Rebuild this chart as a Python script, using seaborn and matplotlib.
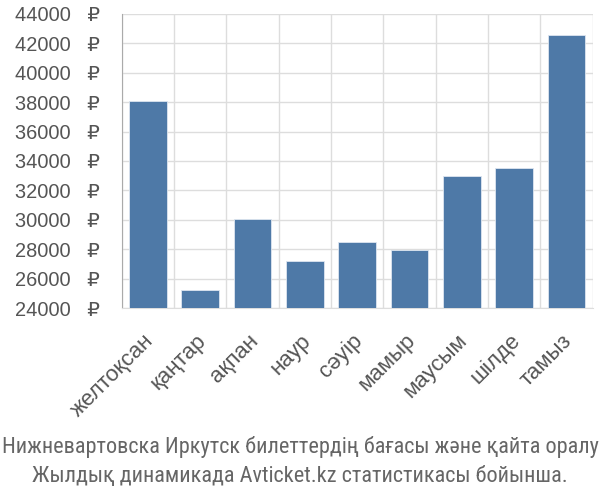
import matplotlib
matplotlib.use("Agg")
import matplotlib.pyplot as plt
import matplotlib.transforms as mtransforms
import seaborn as sns
import pandas as pd
import numpy as np
from matplotlib.ticker import FixedLocator
from matplotlib import font_manager as fm

months = ["желтоқсан", "қаңтар", "ақпан", "наур", "сәуір", "мамыр", "маусым", "шілде", "тамыз"]
prices = [38080, 25250, 30050, 27190, 28480, 27940, 32960, 33510, 42580]
yticks = list(range(24000, 44001, 2000))
caption = ["Нижневартовска Иркутск билеттердің бағасы және қайта оралу",
           "Жылдық динамикада Avticket.kz статистикасы бойынша."]

sns.set_style("white")
plt.rcParams['font.family'] = ['Liberation Sans', 'DejaVu Sans']

df = pd.DataFrame({"month": months, "price": prices})
fig = plt.figure(figsize=(6, 5), dpi=100)
ax = fig.add_axes([0.203, 0.384, 0.785, 0.588])

sns.barplot(data=df, x="month", y="price", color="#4e79a7", saturation=1,
            width=0.72, edgecolor="#dde6f0", linewidth=0.6, ax=ax, zorder=3)

ax.set_xlim(-0.5, len(months) - 0.5)
ax.set_ylim(24000, 44000)
ax.set_yticks(yticks)
ax.set_yticklabels([f"{v}   ₽" for v in yticks])
ax.set_xlabel("")
ax.set_ylabel("")

ax.xaxis.set_minor_locator(FixedLocator(np.arange(-0.5, len(months), 1.0)))
ax.tick_params(axis="x", which="major", length=0, pad=16, labelsize=16, labelcolor="#555555")
ax.tick_params(axis="x", which="minor", length=13, color="#dddddd", width=1)
ax.tick_params(axis="y", length=16, color="#dddddd", width=1, labelsize=14.4, labelcolor="#555555", pad=0)
shift = mtransforms.ScaledTranslation(-5 / 100, 0, fig.dpi_scale_trans)
for lab in ax.get_xticklabels():
    lab.set_rotation(45)
    lab.set_ha("right")
    lab.set_va("top")
    lab.set_rotation_mode("anchor")
    lab.set_transform(lab.get_transform() + shift)

ax.grid(axis="y", which="major", color="#dddddd", linewidth=1, zorder=0)
ax.grid(axis="x", which="minor", color="#dddddd", linewidth=1, zorder=0)
ax.set_axisbelow(True)
for s in ["top", "right"]:
    ax.spines[s].set_visible(False)
ax.spines["left"].set_color("#aaaaaa")
ax.spines["bottom"].set_color("#dddddd")

cap_path = fm.findfont(fm.FontProperties(family="Roboto Condensed"))
capfp = fm.FontProperties(fname=cap_path, size=16)
fig.text(0.5, 0.106, caption[0], ha="center", va="center", color="#666666", fontproperties=capfp)
fig.text(0.5, 0.046, caption[1], ha="center", va="center", color="#666666", fontproperties=capfp)

fig.savefig("out.png", dpi=100)
